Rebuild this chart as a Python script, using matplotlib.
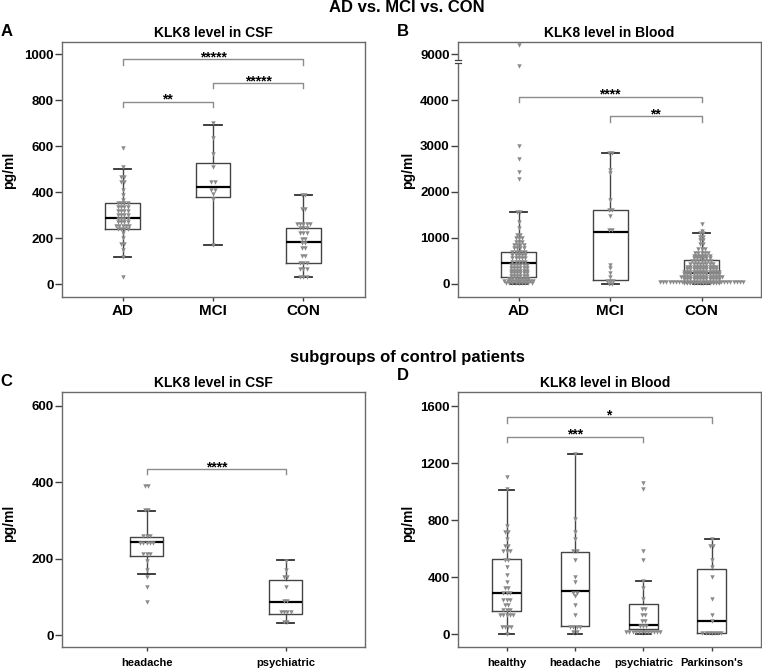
import numpy as np
import matplotlib
matplotlib.use("Agg")
import matplotlib.pyplot as plt
from matplotlib.lines import Line2D

plt.rcParams['font.family'] = ['Liberation Sans', 'DejaVu Sans']
plt.rcParams['font.weight'] = 'bold'

W, H = 762, 668

# ==== DATA (levels of dot rows + number of dots in each row) ====
# Panel A - CSF
csf_groups = ["AD", "MCI", "CON"]
csf_ad_lv = [591, 511, 468, 446, 410, 388, 366, 352, 335, 319, 301, 284, 270, 255, 240, 222, 200, 175, 149, 120, 33]
csf_ad_n = [1, 1, 2, 2, 1, 1, 1, 4, 4, 4, 4, 4, 4, 5, 4, 1, 1, 2, 1, 1, 1]
csf_mci_lv = [700, 638, 565, 512, 446, 410, 391, 371, 171]
csf_mci_n = [1, 1, 1, 1, 2, 2, 1, 1, 1]
csf_con_lv = [388, 326, 262, 243, 222, 196, 178, 157, 125, 91, 65, 33]
csf_con_n = [2, 2, 5, 3, 3, 2, 2, 2, 2, 3, 3, 3]
# box stats: whisker low, q1, median, q3, whisker high
csf_box = [[120, 242, 287, 352, 500],
           [171, 381, 422, 529, 693],
           [30, 91, 183, 246, 390]]

# Panel B - Blood
blood_groups = ["AD", "MCI", "CON"]
blood_ad_lv = [9200, 8750, 3007, 2717, 2435, 2283, 1560, 1355, 1210, 1065, 993, 920, 848, 776, 703,
               630, 558, 485, 413, 341, 290, 232, 174, 116, 65, 15]
blood_ad_n = [1, 1, 1, 1, 1, 1, 2, 1, 1, 2, 3, 3, 4, 4, 5, 5, 5, 5, 6, 6, 6, 6, 6, 7, 10, 9]
blood_mci_lv = [2840, 2478, 2405, 1826, 1609, 1478, 1174, 413, 341, 232, 160, 65, 0]
blood_mci_n = [2, 1, 1, 1, 2, 1, 2, 1, 1, 1, 1, 3, 2]
blood_con_lv = [1297, 1159, 1101, 1029, 957, 862, 754, 681, 616, 558, 500, 435, 377, 319, 268,
                217, 159, 101, 45, 12]
blood_con_n = [1, 1, 2, 2, 2, 2, 3, 5, 6, 6, 7, 8, 10, 10, 12, 12, 14, 12, 27, 12]
blood_box = [[0, 152, 449, 703, 1555],
             [0, 80, 1138, 1601, 2840],
             [0, 50, 232, 522, 1101]]

# Panel C - CSF subgroups
sub_csf_groups = ["headache", "psychiatric"]
sc_head_lv = [391, 327, 260, 241, 213, 193, 169, 152, 125, 87]
sc_head_n = [2, 2, 3, 5, 3, 1, 1, 1, 1, 1]
sc_psy_lv = [194, 171, 153, 125, 88, 59, 35]
sc_psy_n = [1, 1, 2, 1, 2, 4, 2]
sub_csf_box = [[160, 207, 243, 256, 325],
               [32, 55, 86, 144, 197]]

# Panel D - Blood subgroups
sub_blood_groups = ["healthy", "headache", "psychiatric", "Parkinson's"]
sb_healthy_lv = [1105, 1016, 759, 720, 666, 619, 586, 521, 474, 416, 369, 322, 287, 241, 206, 171, 136, 47, 0]
sb_healthy_n = [1, 1, 1, 2, 1, 2, 3, 2, 1, 1, 1, 2, 3, 3, 2, 3, 5, 4, 1]
sb_head_lv = [1262, 808, 720, 666, 586, 521, 404, 369, 287, 264, 206, 136, 47, 12]
sb_head_n = [1, 1, 1, 1, 2, 1, 1, 1, 2, 1, 1, 1, 4, 2]
sb_psy_lv = [1063, 1016, 586, 521, 376, 322, 245, 175, 136, 89, 54, 12]
sb_psy_n = [1, 1, 1, 1, 1, 1, 1, 2, 2, 2, 3, 12]
sb_park_lv = [668, 619, 521, 470, 404, 245, 136, 89, 7]
sb_park_n = [1, 2, 1, 1, 1, 1, 1, 1, 7]
sub_blood_box = [[0, 159, 287, 526, 1010],
                 [0, 58, 299, 575, 1262],
                 [0, 37, 61, 208, 376],
                 [0, 7, 91, 456, 668]]

# significance brackets: (group i, group j, height, end height, stars)
csf_sig = [(1, 3, 978, 954, "*****"), (2, 3, 874, 852, "*****"), (1, 2, 794, 772, "**")]
blood_sig = [(1, 3, 4072, 3964, "****"), (2, 3, 3652, 3529, "**")]
sub_csf_sig = [(1, 2, 434, 421, "****")]
sub_blood_sig = [(1, 4, 1521, 1484, "*"), (1, 3, 1386, 1348, "***")]

fig = plt.figure(figsize=(W / 100, H / 100), dpi=100)


def px_axes(x0, y0, x1, y1):
    return fig.add_axes([x0 / W, 1 - y1 / H, (x1 - x0) / W, (y1 - y0) / H])


def fig_text(x, y, s, **kw):
    fig.text(x / W, 1 - y / H, s, **kw)


def fig_line(x0, x1, y, **kw):
    fig.add_artist(Line2D([x0 / W, x1 / W], [1 - y / H, 1 - y / H], transform=fig.transFigure, **kw))


def style(ax, groups, xlim, ylim, yticks, xfs, xpad):
    ax.set_xlim(*xlim)
    ax.set_ylim(*ylim)
    ax.set_xticks(range(1, len(groups) + 1))
    ax.set_xticklabels(groups, fontsize=xfs, fontweight='bold')
    ax.set_yticks(yticks)
    ax.set_yticklabels([str(t) for t in yticks], fontsize=9.5, fontweight='bold')
    for sp in ax.spines.values():
        sp.set_color('#6a6a6a')
        sp.set_linewidth(1)
    ax.tick_params(axis='y', direction='out', length=5, width=1, color='#404040', pad=1)
    ax.tick_params(axis='x', direction='out', length=3, width=1, color='#404040', pad=xpad)


def boxes(ax, stats, width):
    bx = [dict(whislo=s[0], q1=s[1], med=s[2], q3=s[3], whishi=s[4]) for s in stats]
    ax.bxp(bx, positions=range(1, len(stats) + 1), widths=width, showfliers=False,
           capwidths=width * 0.5,
           boxprops=dict(color='#454545', lw=1),
           medianprops=dict(color='black', lw=1.6),
           whiskerprops=dict(color='#454545', lw=1),
           capprops=dict(color='#303030', lw=1.3), manage_ticks=False)


def dots(ax, pos, levels, counts, dx):
    xs, ys = [], []
    for v, n in zip(levels, counts):
        off = (np.arange(n) - (n - 1) / 2) * dx
        xs.extend(pos + off)
        ys.extend([v] * n)
    ax.plot(xs, ys, 'v', ms=3.2, color='#8a8a8a', mew=0, zorder=4)


def brackets(ax, sig, fs=10):
    for i, j, y, ye, s in sig:
        ax.plot([i, i, j, j], [ye, y, y, ye], color='#8c8c8c', lw=1, zorder=2)
        ax.annotate(s, ((i + j) / 2, y), xytext=(0, -1.5), textcoords='offset points',
                    ha='center', va='baseline', fontsize=fs, fontweight='bold')


# ---- Panel A ----
axA = px_axes(62, 42, 365, 297)
xlA = (0.33, 3.68)
style(axA, csf_groups, xlA, (-55, 1053), [0, 200, 400, 600, 800, 1000], 11, 2)
boxes(axA, csf_box, 0.38)
dxA = 3.3 * (xlA[1] - xlA[0]) / 303
for k, (lv, n) in enumerate([(csf_ad_lv, csf_ad_n), (csf_mci_lv, csf_mci_n), (csf_con_lv, csf_con_n)]):
    dots(axA, k + 1, lv, n, dxA)
brackets(axA, csf_sig)


# ---- Panel B (broken axis) ----
def fwd(v):
    v = np.asarray(v, dtype=float)
    return np.where(v <= 4690, v, np.where(v <= 8700, 4690 + (v - 4690) * 10 / 4010, v - 4000))


def inv(t):
    t = np.asarray(t, dtype=float)
    return np.where(t <= 4690, t, np.where(t <= 4700, 4690 + (t - 4690) * 401, t + 4000))


axB = px_axes(458, 42, 761, 297)
axB.set_yscale('function', functions=(fwd, inv))
xlB = (0.335, 3.65)
style(axB, blood_groups, xlB, (-283, 9261), [0, 1000, 2000, 3000, 4000, 9000], 11, 2)
boxes(axB, blood_box, 0.38)
dxB = 3.2 * (xlB[1] - xlB[0]) / 303
for k, (lv, n) in enumerate([(blood_ad_lv, blood_ad_n), (blood_mci_lv, blood_mci_n), (blood_con_lv, blood_con_n)]):
    dots(axB, k + 1, lv, n, dxB)
brackets(axB, blood_sig)
# break marks on the y axis spine
fig_line(455.5, 460.5, 61.5, color='white', lw=2.2, zorder=10)
fig_line(454.5, 461.5, 60.0, color='#404040', lw=0.9, zorder=11)
fig_line(454.5, 461.5, 63.0, color='#404040', lw=0.9, zorder=11)

# ---- Panel C ----
axC = px_axes(62, 392, 365, 647)
xlC = (0.39, 2.57)
style(axC, sub_csf_groups, xlC, (-31.4, 636), [0, 200, 400, 600], 8, 5)
boxes(axC, sub_csf_box, 0.24)
dxC = 3.3 * (xlC[1] - xlC[0]) / 303
for k, (lv, n) in enumerate([(sc_head_lv, sc_head_n), (sc_psy_lv, sc_psy_n)]):
    dots(axC, k + 1, lv, n, dxC)
brackets(axC, sub_csf_sig)

# ---- Panel D ----
axD = px_axes(458, 392, 761, 647)
xlD = (0.29, 4.72)
style(axD, sub_blood_groups, xlD, (-91, 1700), [0, 400, 800, 1200, 1600], 8, 5)
boxes(axD, sub_blood_box, 0.42)
dxD = 3.1 * (xlD[1] - xlD[0]) / 303
for k, (lv, n) in enumerate([(sb_healthy_lv, sb_healthy_n), (sb_head_lv, sb_head_n),
                             (sb_psy_lv, sb_psy_n), (sb_park_lv, sb_park_n)]):
    dots(axD, k + 1, lv, n, dxD)
brackets(axD, sub_blood_sig)

# ---- titles and labels ----
fig_text(407, 8, "AD vs. MCI vs. CON", ha='center', va='center', fontsize=12, fontweight='bold')
fig_text(407, 358, "subgroups of control patients", ha='center', va='center', fontsize=12, fontweight='bold')
fig_text(213, 33, "KLK8 level in CSF", ha='center', va='center', fontsize=10, fontweight='bold')
fig_text(609, 33, "KLK8 level in Blood", ha='center', va='center', fontsize=10, fontweight='bold')
fig_text(213, 383, "KLK8 level in CSF", ha='center', va='center', fontsize=10, fontweight='bold')
fig_text(605, 383, "KLK8 level in Blood", ha='center', va='center', fontsize=10, fontweight='bold')
for x, y, s in [(1, 32, "A"), (397, 32, "B"), (0, 381, "C"), (397, 375, "D")]:
    fig_text(x, y, s, ha='left', va='center', fontsize=12, fontweight='bold')
for x, y in [(9, 170), (408, 170), (9, 523), (408, 523)]:
    fig_text(x, y, "pg/ml", ha='center', va='center', rotation=90, fontsize=10, fontweight='bold')

fig.savefig("out.png", dpi=100)
